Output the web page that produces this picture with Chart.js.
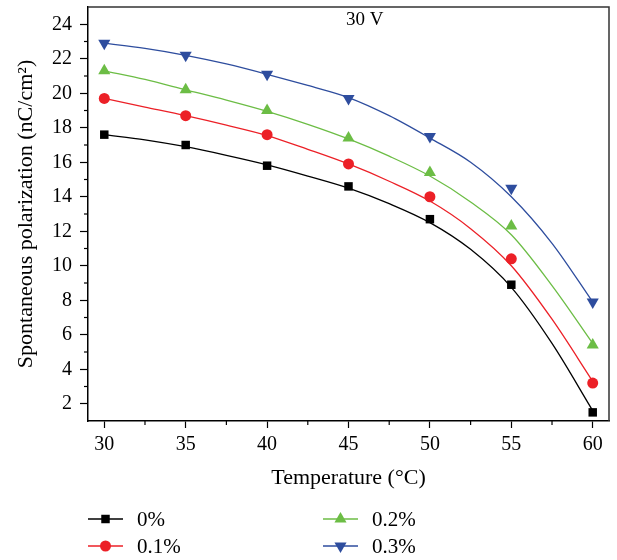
<!DOCTYPE html>
<html>
<head>
<meta charset="utf-8">
<script src="https://cdn.jsdelivr.net/npm/chart.js@4.4.0/dist/chart.umd.min.js"></script>
<style>
  html, body { margin: 0; padding: 0; background: #fff; }
  #wrap { width: 617px; height: 560px; position: relative; }
</style>
</head>
<body>
<div id="wrap"><canvas id="chart"></canvas></div>
<script>
// measured points
const temps = [30, 35, 40, 45, 50, 55, 60];
const pol0 = [17.6, 17.0, 15.8, 14.6, 12.7, 8.9, 1.5];
const pol01 = [19.7, 18.7, 17.6, 15.9, 14.0, 10.4, 3.2];
const pol02 = [21.3, 20.2, 19.0, 17.4, 15.4, 12.3, 5.4];
const pol03 = [22.9, 22.2, 21.1, 19.7, 17.5, 14.5, 7.9];

// fitted curves
const fitTemps = [30, 32.5, 35, 37.5, 40, 42.5, 45, 47.5, 50, 52.5, 55, 57.5, 60];
const fit0 = [17.6, 17.3, 16.9, 16.4, 15.85, 15.2, 14.5, 13.6, 12.5, 10.95, 8.75, 5.5, 1.6];
const fit01 = [19.7, 19.2, 18.7, 18.15, 17.55, 16.75, 15.9, 14.9, 13.75, 12.15, 10.0, 6.9, 3.3];
const fit02 = [21.3, 20.8, 20.2, 19.6, 18.95, 18.2, 17.35, 16.35, 15.2, 13.7, 11.8, 8.85, 5.5];
const fit03 = [22.9, 22.6, 22.2, 21.7, 21.1, 20.45, 19.75, 18.7, 17.4, 16.0, 14.0, 11.3, 7.9];

const seriesLabels = ['0%', '0.1%', '0.2%', '0.3%'];
const colors = ['#000000', '#ec2027', '#6cbd45', '#2e4d9e'];
const xTicks = [30, 35, 40, 45, 50, 55, 60];
const yTicks = [2, 4, 6, 8, 10, 12, 14, 16, 18, 20, 22, 24];
const xMinor = [32.5, 37.5, 42.5, 47.5, 52.5, 57.5];
const yMinor = [3, 5, 7, 9, 11, 13, 15, 17, 19, 21, 23];
const voltageLabel = '30 V';

const serif = '"Liberation Serif", "DejaVu Serif", serif';
const points = [pol0, pol01, pol02, pol03];
const fits = [fit0, fit01, fit02, fit03];
const markers = [
    { style: 'rect', radius: 6, rotation: 0 },
    { style: 'circle', radius: 5.5, rotation: 0 },
    { style: 'triangle', radius: 7, rotation: 0 },
    { style: 'triangle', radius: 7, rotation: 180 }
];

const toXY = (xs, ys) => xs.map((x, i) => ({ x: x, y: ys[i] }));

const datasets = [];
fits.forEach((f, i) => {
    datasets.push({
        label: seriesLabels[i] + ' fit',
        data: toXY(fitTemps, f),
        showLine: true,
        borderColor: colors[i],
        borderWidth: 1.3,
        pointRadius: 0,
        cubicInterpolationMode: 'monotone',
        order: 2
    });
});
points.forEach((p, i) => {
    datasets.push({
        label: seriesLabels[i],
        data: toXY(temps, p),
        showLine: false,
        backgroundColor: colors[i],
        borderColor: colors[i],
        borderWidth: 0,
        pointStyle: markers[i].style,
        pointRadius: markers[i].radius,
        pointRotation: markers[i].rotation,
        order: 1
    });
});

const extrasPlugin = {
    id: 'extras',
    afterDraw(chart) {
        const ctx = chart.ctx;
        const { left, right, top, bottom } = chart.chartArea;
        const xs = chart.scales.x;
        const ys = chart.scales.y;
        ctx.save();

        // top and right frame
        ctx.strokeStyle = '#333';
        ctx.lineWidth = 1.5;
        ctx.beginPath();
        ctx.moveTo(left, top);
        ctx.lineTo(right, top);
        ctx.lineTo(right, bottom);
        ctx.stroke();

        // minor ticks
        ctx.strokeStyle = '#000';
        ctx.lineWidth = 1.2;
        xMinor.forEach(v => {
            const px = xs.getPixelForValue(v);
            ctx.beginPath();
            ctx.moveTo(px, bottom);
            ctx.lineTo(px, bottom + 4);
            ctx.stroke();
        });
        yMinor.forEach(v => {
            const py = ys.getPixelForValue(v);
            ctx.beginPath();
            ctx.moveTo(left, py);
            ctx.lineTo(left - 4, py);
            ctx.stroke();
        });

        // panel label
        ctx.fillStyle = '#000';
        ctx.font = '19px ' + serif;
        ctx.textAlign = 'center';
        ctx.textBaseline = 'middle';
        ctx.fillText(voltageLabel, xs.getPixelForValue(46), top + 13);

        // legend, two columns
        const cols = [88, 323];
        const rows = [519, 546];
        ctx.textAlign = 'left';
        ctx.font = '21px ' + serif;
        seriesLabels.forEach((lab, i) => {
            const x0 = cols[Math.floor(i / 2)];
            const y0 = rows[i % 2];
            ctx.strokeStyle = colors[i];
            ctx.fillStyle = colors[i];
            ctx.lineWidth = 1.3;
            ctx.beginPath();
            ctx.moveTo(x0, y0);
            ctx.lineTo(x0 + 35, y0);
            ctx.stroke();
            Chart.helpers.drawPoint(ctx, {
                pointStyle: markers[i].style,
                radius: markers[i].radius,
                rotation: markers[i].rotation,
                borderWidth: 0
            }, x0 + 17.5, y0);
            ctx.fillStyle = '#000';
            ctx.fillText(lab, x0 + 49, y0 + 1);
        });
        ctx.restore();
    }
};

new Chart(document.getElementById('chart'), {
    type: 'scatter',
    data: { datasets: datasets },
    options: {
        responsive: true,
        maintainAspectRatio: false,
        animation: false,
        layout: { padding: { top: 2, right: 8, bottom: 59, left: 0 } },
        plugins: {
            legend: { display: false },
            tooltip: { enabled: false }
        },
        scales: {
            x: {
                type: 'linear',
                min: 29,
                max: 61,
                afterBuildTicks: s => { s.ticks = xTicks.map(v => ({ value: v })); },
                afterFit: s => { s.height = 80; s.paddingLeft = 0; s.paddingRight = 0; },
                grid: { drawOnChartArea: false, tickLength: 7, tickColor: '#000', tickWidth: 1.2 },
                border: { color: '#000', width: 1.5 },
                ticks: { color: '#000', font: { family: serif, size: 20 }, padding: 5, maxRotation: 0 },
                title: {
                    display: true,
                    text: 'Temperature (°C)',
                    color: '#000',
                    font: { family: serif, size: 22 },
                    padding: { top: 0, bottom: 10 }
                }
            },
            y: {
                type: 'linear',
                min: 1,
                max: 25,
                afterBuildTicks: s => { s.ticks = yTicks.map(v => ({ value: v })); },
                afterFit: s => { s.width = 88; s.paddingTop = 0; s.paddingBottom = 0; },
                grid: { drawOnChartArea: false, tickLength: 8, tickColor: '#000', tickWidth: 1.2 },
                border: { color: '#000', width: 1.5 },
                ticks: { color: '#000', font: { family: serif, size: 20 }, padding: 8 },
                title: {
                    display: true,
                    text: 'Spontaneous polarization (nC/cm²)',
                    color: '#000',
                    font: { family: serif, size: 22 },
                    padding: { top: 13, bottom: 0 }
                }
            }
        }
    },
    plugins: [extrasPlugin]
});
</script>
</body>
</html>
